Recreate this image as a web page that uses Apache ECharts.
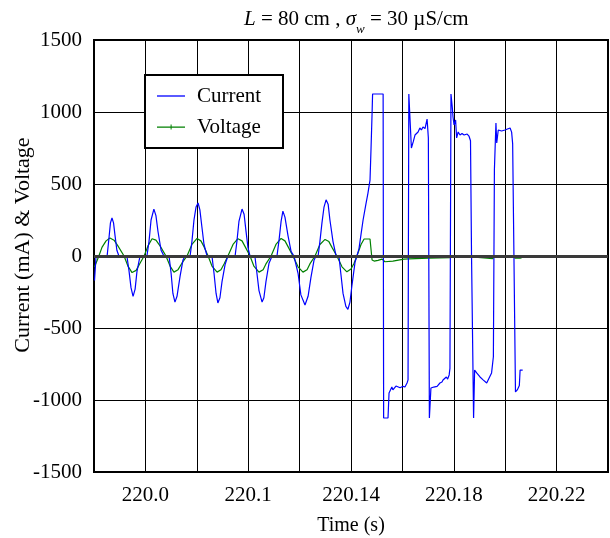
<!DOCTYPE html>
<html>
<head>
    <meta charset="UTF-8">
    <title>Current & Voltage</title>
    <script src="https://cdn.jsdelivr.net/npm/echarts/dist/echarts.min.js"></script>
    <style>
    body { margin: 0; background: #fff; }
    #chart { width: 610px; height: 538px; }
  </style>
</head>
<body>
<div id="chart"></div>

<script>
    // time is given in ms after t = 220 s
    var currentT = [40.2, 40.8, 45.1, 45.8, 46.4, 47.0, 47.6, 48.2, 48.9, 49.7, 52.8, 53.6, 54.4, 55.2, 56.0, 56.7, 57.9,
      60.6, 61.4, 62.2, 63.3, 64.1, 64.9, 66.1, 67.2, 69.2, 70.0, 70.7, 71.5, 72.3, 73.5, 74.6, 75.4,
      77.4, 78.1, 78.9, 79.7, 80.5, 81.2, 82.0, 82.8, 84.0, 85.9, 86.7, 87.5, 88.2, 89.0, 89.8, 91.0, 92.1,
      94.9, 95.6, 96.4, 97.6, 98.4, 99.1, 99.9, 100.7, 102.6, 103.4, 104.2, 105.4, 106.1, 106.9, 108.1, 109.3,
      111.2, 112.0, 112.8, 113.5, 114.3, 115.5, 116.7, 117.8, 118.2, 119.4, 120.5, 122.1, 123.3, 124.4, 125.6, 126.4,
      127.2, 127.9, 128.7, 129.5, 130.3, 131.1, 131.8, 133.0, 134.2, 135.3, 136.1, 136.9, 138.0, 138.8, 139.6, 140.4, 141.6, 142.3,
      143.1, 143.9, 144.7, 145.8, 146.6, 147.4, 147.8, 148.2, 148.4, 152.5, 152.7,
      154.4, 154.8, 155.9, 156.3, 157.5, 159.1, 160.2, 161.0, 161.8, 162.2, 162.5,
      163.2, 163.5, 164.2, 164.9, 166.1, 166.8, 167.4, 168.0, 168.8, 169.6, 169.8, 170.1, 170.5,
      170.7, 171.1, 172.2, 173.5, 174.6, 175.4, 175.8, 176.4, 177.1, 177.6, 178.2, 178.5, 178.9,
      179.0, 179.4, 179.7, 180.1, 180.7, 181.1, 181.7, 182.4, 183.2, 184.0, 185.2, 185.9, 186.5, 186.9,
      187.7, 188.1, 188.9, 190.2, 191.4, 192.8, 193.3, 194.7, 195.4, 195.8,
      196.4, 196.7, 197.3, 198.6, 199.3, 199.9, 200.6, 201.9, 202.5, 202.9, 203.4,
      204.0, 204.7, 205.5, 205.8, 206.4, 206.8];
    var currentV = [-170, 0, 0, 120, 230, 264, 230, 140, 40, 0, 0, -100, -220, -280, -230, -110, 0,
      0, 100, 250, 326, 280, 170, 40, 0, 0, -120, -260, -320, -280, -140, -30, 0,
      0, 100, 250, 340, 368, 320, 200, 80, 0, 0, -120, -260, -326, -290, -180, -60, 0,
      0, 100, 240, 326, 290, 180, 60, 0, 0, -120, -240, -320, -290, -180, -50, 0,
      0, 110, 240, 312, 270, 140, 30, 0, 0, -120, -270, -340, -280, -150, -30, 0,
      0, 100, 230, 340, 390, 360, 250, 100, 0, 0, -130, -260, -350, -370, -320, -200, -40, 0,
      50, 150, 250, 360, 437, 527, 750, 990, 1125, 1125, -1125,
      -1125, -951, -910, -930, -903, -915, -905, -910, -882, -860, 1125,
      1125, 750, 792, 840, 861, 889, 875, 896, 885, 951, 900, 820, -1125,
      -1125, -917, -910, -905, -882, -875, -861, -870, -840, -855, -826, -780, 1125,
      1125, 1035, 965, 910, 945, 820, 861, 840, 850, 840, 847, 833, 800, 0,
      -1125, -792, -812, -840, -860, -882, -870, -812, -700, 600,
      924, 785, 875, 868, 880, 875, 882, 889, 860, 780, 0,
      -944, -930, -900, -792, -785, -792];

    var voltageT = [40.2, 41.9, 43.1, 44.7, 46.2, 47.8, 49.3, 51.7, 53.2, 54.8, 56.4, 57.9,
      59.5, 61.0, 62.6, 64.1, 65.7, 68.0, 69.6, 71.1, 72.7, 74.2,
      76.2, 78.1, 80.1, 81.6, 82.8, 84.4, 85.9, 87.9, 89.4, 90.6,
      92.1, 94.1, 96.0, 97.6, 98.8, 100.7, 102.2, 104.2, 105.8, 106.9,
      108.9, 110.8, 112.8, 114.3, 115.5, 117.4, 119.4, 121.3, 122.9, 124.0,
      126.0, 127.9, 129.9, 131.4, 132.6, 134.5, 136.5, 138.4, 140.0, 141.2,
      142.3, 143.9, 145.1, 147.4, 148.2, 149.0, 150.5, 152.1, 153.2, 156.3, 160.6, 162.5,
      170.3, 170.7, 178.5, 179.3, 187.1, 187.5, 195.2, 195.6, 203.0, 203.8, 205.8, 206.9];
    var voltageV = [-76, 0, 60, 105, 125, 110, 70, 0, -70, -115, -100, -50,
      0, 70, 120, 110, 70, 0, -70, -112, -95, -50,
      0, 80, 122, 105, 65, 0, -70, -112, -95, -55,
      0, 80, 120, 105, 65, 0, -70, -112, -95, -55,
      0, 80, 122, 105, 65, 0, -75, -112, -95, -55,
      0, 80, 115, 100, 60, 0, -75, -110, -90, -50,
      0, 80, 118, 118, -28, -35, -30, -22, -40, -35, -22, -20,
      -15, -20, -12, -7, -7, -20, -18, 0, 0, -15, -15, -8];

    var xTickPos = [60, 100, 140, 180, 220];
    var xTickLabels = ['220.0', '220.1', '220.14', '220.18', '220.22'];
    var yTicks = [-1500, -1000, -500, 0, 500, 1000, 1500];

    function zip(xs, ys) {
      var out = [];
      for (var i = 0; i < xs.length; i++) out.push([xs[i], ys[i]]);
      return out;
    }

    var serif = 'Liberation Serif';
    var chart = echarts.init(document.getElementById('chart'));

    var option = {
      animation: false,
      backgroundColor: '#fff',
      title: {
        text: '{i|L} = 80 cm , {i|σ}{s|w} = 30 µS/cm',
        left: 239,
        top: 4,
        textStyle: {
          fontFamily: serif, fontSize: 21, fontWeight: 'normal', color: '#000',
          rich: {
            i: { fontFamily: serif, fontSize: 21, fontStyle: 'italic', color: '#000' },
            s: { fontFamily: serif, fontSize: 13, fontStyle: 'italic', color: '#000', verticalAlign: 'bottom', padding: [0, 0, -6, 0] }
          }
        }
      },
      legend: {
        data: [
          { name: 'Current', icon: 'path://M0,0 L28,0 L28,1.3 L0,1.3 Z' },
          { name: 'Voltage', icon: 'path://M0,2 L28,2 L28,3.3 L0,3.3 Z M13.6,0 L14.6,0 L14.6,5 L13.6,5 Z' }
        ],
        orient: 'vertical',
        left: 145,
        top: 75,
        padding: [10, 14, 10, 12],
        itemWidth: 28,
        itemHeight: 14,
        itemGap: 9,
        symbolKeepAspect: true,
        backgroundColor: '#fff',
        borderColor: '#000',
        borderWidth: 2,
        borderRadius: 0,
        textStyle: { fontFamily: serif, fontSize: 21, color: '#000', width: 72, lineHeight: 22, padding: [0, 0, 0, 7] }
      },
      grid: {
        left: 94, right: 2, top: 40, bottom: 66,
        outerBoundsMode: 'none',
        containLabel: false,
        show: true, borderColor: '#000', borderWidth: 2, backgroundColor: '#fff'
      },
      xAxis: {
        type: 'value',
        min: 40, max: 240, interval: 20,
        name: 'Time (s)',
        nameLocation: 'middle',
        nameGap: 44,
        nameMoveOverlap: false,
        nameTextStyle: { fontFamily: serif, fontSize: 20, color: '#000' },
        axisLine: { show: true, lineStyle: { color: '#000', width: 2 } },
        axisTick: { show: false },
        splitLine: { show: true, lineStyle: { color: '#000', width: 1 } },
        axisLabel: {
          fontFamily: serif, fontSize: 21, color: '#000', margin: 13,
          formatter: function (v) {
            for (var i = 0; i < xTickPos.length; i++) {
              if (Math.abs(v - xTickPos[i]) < 1e-6) return xTickLabels[i];
            }
            return '';
          }
        }
      },
      yAxis: {
        type: 'value',
        min: yTicks[0], max: yTicks[yTicks.length - 1], interval: 500,
        name: 'Current (mA) & Voltage',
        nameLocation: 'middle',
        nameGap: 60,
        nameMoveOverlap: false,
        nameTextStyle: { fontFamily: serif, fontSize: 22, color: '#000', padding: [0, 0, 0, 22] },
        axisLine: { show: true, lineStyle: { color: '#000', width: 2 } },
        axisTick: { show: false },
        splitLine: { show: true, lineStyle: { color: '#000', width: 1 } },
        axisLabel: {
          fontFamily: serif, fontSize: 21, color: '#000', margin: 12,
          formatter: function (v) { return String(v); }
        }
      },
      series: [
        {
          // zero line, drawn under the curves
          type: 'line',
          data: [],
          z: 1,
          markLine: {
            silent: true,
            symbol: 'none',
            label: { show: false },
            lineStyle: { color: '#3a3a3a', width: 3, type: 'solid' },
            data: [{ yAxis: 0 }]
          }
        },
        {
          name: 'Current',
          type: 'line',
          z: 3,
          data: zip(currentT, currentV),
          symbol: 'none',
          lineStyle: { color: '#0000ff', width: 1.2 },
          itemStyle: { color: '#0000ff' }
        },
        {
          name: 'Voltage',
          type: 'line',
          z: 2,
          data: zip(voltageT, voltageV),
          symbol: 'none',
          lineStyle: { color: '#008000', width: 1.2 },
          itemStyle: { color: '#008000' }
        }
      ]
    };
    chart.setOption(option);
  </script>
</body>
</html>
